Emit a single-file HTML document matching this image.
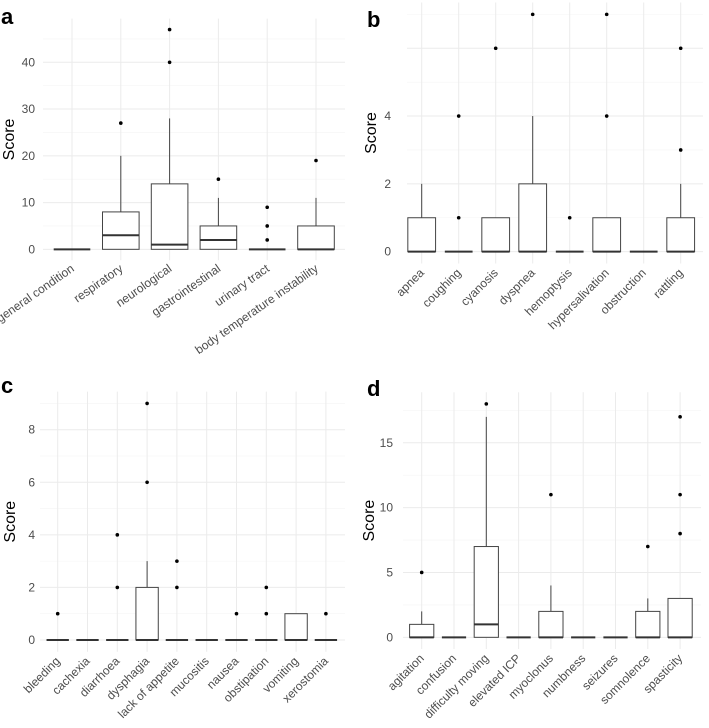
<!DOCTYPE html>
<html><head><meta charset="utf-8">
<style>
html,body{margin:0;padding:0;background:#fff;}
svg{display:block;font-family:"Liberation Sans",Arial,sans-serif;}
</style></head>
<body>
<svg id="chart" width="709" height="728" viewBox="0 0 709 728" xmlns="http://www.w3.org/2000/svg"></svg>
<script>
// Panel a data
const catsA = ["general condition","respiratory","neurological","gastrointestinal","urinary tract","body temperature instability"];
const q1A = [0,0,0,0,0,0];
const medA = [0,3,1,2,0,0];
const q3A = [0,8,14,5,0,5];
const whiA = [0,20,28,11,0,11];
const outA = [[],[27],[40,47],[15],[2,5,9],[19]];
const ticksA = [0,10,20,30,40];
// Panel b data
const catsB = ["apnea","coughing","cyanosis","dyspnea","hemoptysis","hypersalivation","obstruction","rattling"];
const q1B = [0,0,0,0,0,0,0,0];
const medB = [0,0,0,0,0,0,0,0];
const q3B = [1,0,1,2,0,1,0,1];
const whiB = [2,0,1,4,0,1,0,2];
const outB = [[],[1,4],[6],[7],[1],[4,7],[],[3,6]];
const ticksB = [0,2,4];
// Panel c data
const catsC = ["bleeding","cachexia","diarrhoea","dysphagia","lack of appetite","mucositis","nausea","obstipation","vomiting","xerostomia"];
const q1C = [0,0,0,0,0,0,0,0,0,0];
const medC = [0,0,0,0,0,0,0,0,0,0];
const q3C = [0,0,0,2,0,0,0,0,1,0];
const whiC = [0,0,0,3,0,0,0,0,1,0];
const outC = [[1],[],[2,4],[6,9],[2,3],[],[1],[1,2],[],[1]];
const ticksC = [0,2,4,6,8];
// Panel d data
const catsD = ["agitation","confusion","difficulty moving","elevated ICP","myoclonus","numbness","seizures","somnolence","spasticity"];
const q1D = [0,0,0,0,0,0,0,0,0];
const medD = [0,0,1,0,0,0,0,0,0];
const q3D = [1,0,7,0,2,0,0,2,3];
const whiD = [2,0,17,0,4,0,0,3,3];
const outD = [[5],[],[18],[],[11],[],[],[7],[8,11,17]];
const ticksD = [0,5,10,15];

const NS="http://www.w3.org/2000/svg";
const svg=document.getElementById('chart');
function mk(tag,attrs,parent){const e=document.createElementNS(NS,tag);for(const k in attrs)e.setAttribute(k,attrs[k]);(parent||svg).appendChild(e);return e;}

function panel(cfg){
  const g=mk('g',{});
  
  
  const n=cfg.cats.length;
  let ymax=0;
  for(let i=0;i<n;i++){ymax=Math.max(ymax,cfg.whi[i],cfg.q3[i],...cfg.out[i]);}
  const pad=ymax*0.05;
  const ylo=-pad, yhi=ymax+pad;
  const Y=v=>cfg.bottom-(v-ylo)/(yhi-ylo)*(cfg.bottom-cfg.top);
  const X=i=>cfg.c0+i*cfg.step;
  const bw=cfg.step*0.75;
  const gridG=mk('g',{},g);
  
  
  const st=cfg.gstep;
  for(let v=0; v<=yhi; v+=st/2){
    const major=Math.abs((v/st)-Math.round(v/st))<1e-6;
    mk('line',{x1:cfg.left,x2:cfg.right,y1:Y(v),y2:Y(v),stroke:major?'#ebebeb':'#f5f5f5','stroke-width':major?1:0.6},gridG);
  }
  for(let i=0;i<n;i++) mk('line',{x1:X(i),x2:X(i),y1:cfg.top,y2:cfg.bottom,stroke:'#ebebeb','stroke-width':1},gridG);
  cfg.ticks.forEach(t=>{
    const tx=mk('text',{x:cfg.tickX,y:Y(t)+4,'text-anchor':'end','font-size':12,fill:'#4d4d4d'},g);
    tx.textContent=t;
    
    
  });
  const yt=mk('text',{x:cfg.titleX,y:(cfg.top+cfg.bottom)/2,'text-anchor':'middle','font-size':16,fill:'#000',transform:`rotate(-90 ${cfg.titleX} ${(cfg.top+cfg.bottom)/2})`},g);
  yt.textContent='Score';
  
  
  const lt=mk('text',{x:cfg.lx,y:cfg.ly,'font-size':22,'font-weight':'bold',fill:'#000'},g);
  lt.textContent=cfg.letter;
  
  
  for(let i=0;i<n;i++){
    const bg=mk('g',{},g);
    
    
    const x=X(i);
    if(cfg.whi[i]>cfg.q3[i]) mk('line',{x1:x,x2:x,y1:Y(cfg.q3[i]),y2:Y(cfg.whi[i]),stroke:'#444','stroke-width':1},bg);
    mk('rect',{x:x-bw/2,y:Y(cfg.q3[i]),width:bw,height:Math.max(0,Y(cfg.q1[i])-Y(cfg.q3[i])),fill:'#fff',stroke:'#444','stroke-width':1},bg);
    mk('line',{x1:x-bw/2,x2:x+bw/2,y1:Y(cfg.med[i]),y2:Y(cfg.med[i]),stroke:'#333','stroke-width':2},bg);
    cfg.out[i].forEach(o=>{
      const c=mk('circle',{cx:x,cy:Y(o),r:1.8,fill:'#000'},bg);
      
      
    });
    const lx=x+3, ly=cfg.bottom+10;
    const tl=mk('text',{x:lx,y:ly,'text-anchor':'end','font-size':12,fill:'#4d4d4d',transform:`rotate(${-cfg.angle} ${lx} ${ly})`},g);
    tl.textContent=cfg.cats[i];
    
    
  }
}
panel({letter:'a',cats:catsA,q1:q1A,med:medA,q3:q3A,whi:whiA,out:outA,ticks:ticksA,gstep:10,
  top:18.6,bottom:260.3,left:43,right:345,c0:72,step:48.8,tickX:35,titleX:14,lx:1,ly:24,angle:35});
panel({letter:'b',cats:catsB,q1:q1B,med:medB,q3:q3B,whi:whiB,out:outB,ticks:ticksB,gstep:2,
  top:2.5,bottom:263.5,left:407,right:703,c0:421.7,step:37,tickX:391,titleX:376,lx:367,ly:27,angle:45});
panel({letter:'c',cats:catsC,q1:q1C,med:medC,q3:q3C,whi:whiC,out:outC,ticks:ticksC,gstep:2,
  top:391.6,bottom:651.8,left:40,right:345,c0:57.7,step:29.8,tickX:35,titleX:15,lx:1,ly:393,angle:45});
panel({letter:'d',cats:catsD,q1:q1D,med:medD,q3:q3D,whi:whiD,out:outD,ticks:ticksD,gstep:5,
  top:392.2,bottom:649,left:403,right:701,c0:421.7,step:32.3,tickX:393,titleX:374,lx:367,ly:396,angle:45});
</script>
</body></html>
